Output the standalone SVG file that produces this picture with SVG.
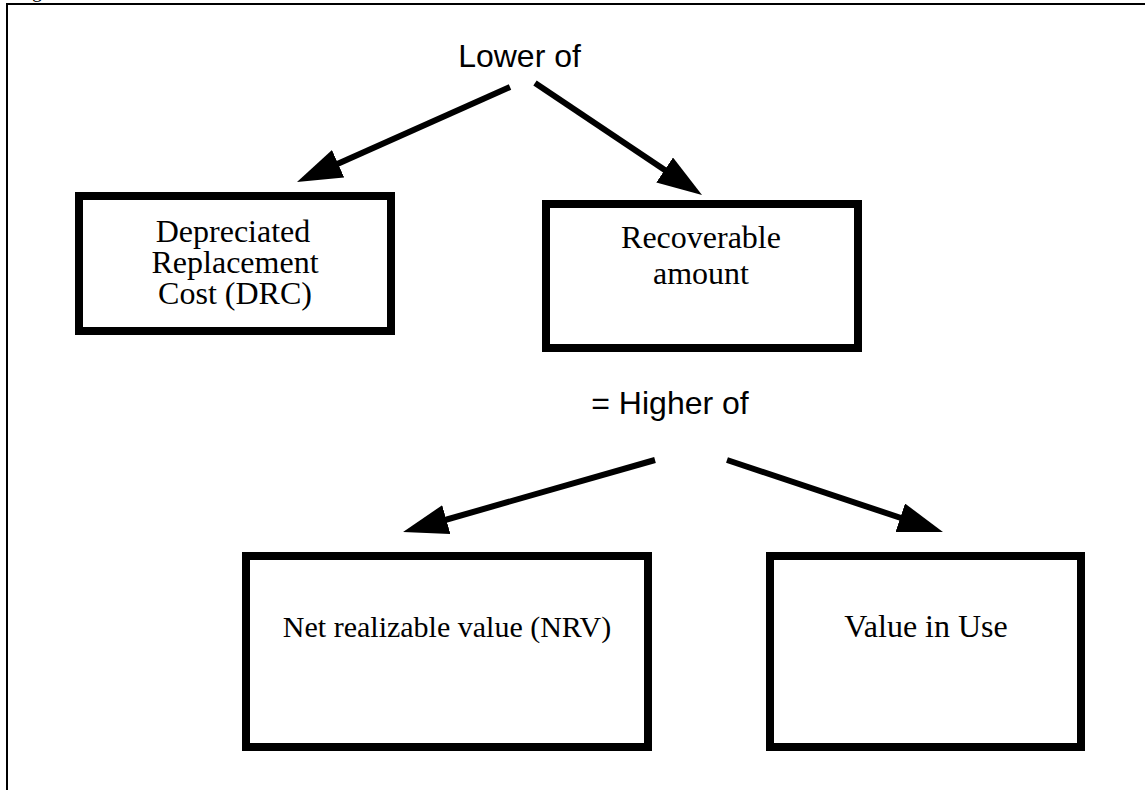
<svg xmlns="http://www.w3.org/2000/svg" width="1145" height="790" viewBox="0 0 1145 790">
  <style>
    .box { fill: #ffffff; stroke: #000000; stroke-width: 8; }
    .serif { font-family: "Liberation Serif", "Times New Roman", serif; font-size: 32px; fill: #000000; text-anchor: middle; }
    .sans { font-family: "Liberation Sans", Arial, sans-serif; font-size: 32px; fill: #000000; text-anchor: middle; }
    .conn { stroke: #000000; stroke-width: 6; fill: none; marker-end: url(#arrow); }
  </style>
  <defs>
    <marker id="arrow" viewBox="0 0 45 30" refX="15" refY="15" markerWidth="45" markerHeight="30" markerUnits="userSpaceOnUse" orient="auto">
      <path d="M0,0 L45,15 L0,30 Z" fill="#000000"/>
    </marker>
  </defs>
  <rect x="0" y="0" width="1145" height="790" fill="#ffffff"/>
  <g id="frame">
    <path d="M7,790 V4 H1145" fill="none" stroke="#000000" stroke-width="2"/>
    <text x="32" y="-3" font-family="Liberation Serif, serif" font-size="20" fill="#000000">g</text>
  </g>
  <g id="connectors">
    <line class="conn" x1="510" y1="87" x2="324.4" y2="169.8"/>
    <line class="conn" x1="535" y1="83" x2="677.1" y2="178.3"/>
    <line class="conn" x1="655" y1="460" x2="431.9" y2="523.75"/>
    <line class="conn" x1="727" y1="460" x2="914.5" y2="522.5"/>
  </g>
  <g id="lower-of">
    <text class="sans" x="519.5" y="67">Lower of</text>
  </g>
  <g id="higher-of">
    <text class="sans" x="670" y="414">= Higher of</text>
  </g>
  <g id="drc">
    <rect class="box" x="79" y="196" width="312" height="135"/>
    <text class="serif" x="233" y="242">Depreciated</text>
    <text class="serif" x="235" y="273">Replacement</text>
    <text class="serif" x="235" y="304">Cost (DRC)</text>
  </g>
  <g id="recoverable">
    <rect class="box" x="546" y="204" width="312" height="144"/>
    <text class="serif" x="701" y="248">Recoverable</text>
    <text class="serif" x="701" y="284">amount</text>
  </g>
  <g id="nrv">
    <rect class="box" x="246" y="556" width="402" height="191"/>
    <text class="serif" x="447" y="637" style="font-size:30px">Net realizable value (NRV)</text>
  </g>
  <g id="viu">
    <rect class="box" x="770" y="556" width="311" height="191"/>
    <text class="serif" x="926" y="637">Value in Use</text>
  </g>
</svg>
